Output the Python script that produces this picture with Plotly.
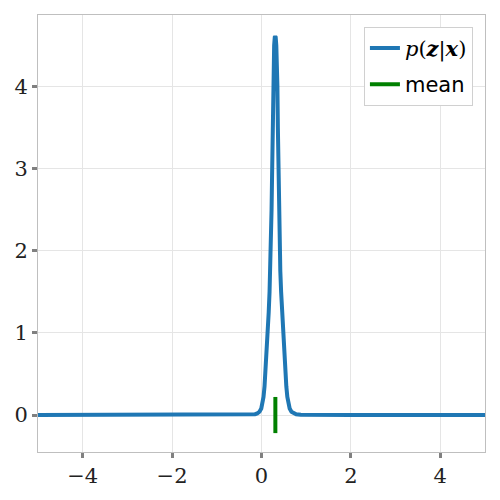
import plotly.graph_objects as go

# density p(z|x)
z_vals = [-5.0, -2.0, -0.8, -0.245, -0.145, -0.095, -0.045, -0.005, 0.015, 0.045,
          0.068, 0.087, 0.113, 0.138, 0.161, 0.18, 0.195, 0.207, 0.225, 0.239, 0.25,
          0.26, 0.271, 0.283, 0.297, 0.307, 0.317, 0.331, 0.344, 0.356, 0.366,
          0.377, 0.391, 0.409, 0.421, 0.439, 0.460, 0.484, 0.508, 0.535, 0.555, 0.578,
          0.61, 0.63, 0.67, 0.72, 0.775, 0.88, 1.4, 2.0, 5.0]
p_vals = [0.0, 0.0, 0.002, 0.005, 0.01, 0.02, 0.04, 0.08, 0.12, 0.22,
          0.35, 0.5, 0.75, 1.0, 1.25, 1.5, 1.75, 2.0, 2.5, 3.0, 3.5,
          4.0, 4.3, 4.5, 4.6, 4.61, 4.6, 4.5, 4.3, 4.0, 3.5,
          3.0, 2.5, 2.0, 1.75, 1.5, 1.25, 1.0, 0.75, 0.5, 0.35, 0.22,
          0.12, 0.08, 0.04, 0.02, 0.01, 0.005, 0.002, 0.0, 0.0]

mean_z = 0.31
mean_marker_y = [-0.22, 0.22]

x_ticks = [-4, -2, 0, 2, 4]
y_ticks = [0, 1, 2, 3, 4]

fig = go.Figure()
fig.add_trace(go.Scatter(
    x=z_vals, y=p_vals, mode="lines",
    line=dict(color="#1f77b4", width=4),
    name="<i>p</i>(<b><i>z</i></b>|<b><i>x</i></b>)",
    legendgroup="a",
))
fig.add_trace(go.Scatter(
    x=[mean_z, mean_z], y=mean_marker_y, mode="lines",
    line=dict(color="#008000", width=4),
    name="<span style='font-family:DejaVu Sans'>mean</span>",
    legendgroup="b",
))

serif = "DejaVu Serif"
axis_common = dict(
    showline=True, mirror=True, linecolor="#bfbfbf", linewidth=1,
    showgrid=True, gridcolor="#e5e5e5", gridwidth=1,
    zeroline=False,
    ticks="outside", ticklen=5, tickwidth=2.5, tickcolor="#808080",
    tickfont=dict(family=serif, size=21, color="#222"),
)

fig.update_layout(
    width=500, height=500,
    margin=dict(l=30, r=23, t=7, b=56),
    paper_bgcolor="white", plot_bgcolor="white",
    showlegend=True,
    legend=dict(
        x=0.973, y=0.973, xanchor="right", yanchor="top",
        bgcolor="white", bordercolor="#d0d0d0", borderwidth=1,
        itemwidth=30, tracegroupgap=6,
        font=dict(family=serif, size=21, color="black"),
    ),
    xaxis=dict(range=[-5, 5], tickvals=x_ticks, **axis_common),
    yaxis=dict(range=[-0.45, 4.87], tickvals=y_ticks, **axis_common),
)

fig.write_html("out.html")
